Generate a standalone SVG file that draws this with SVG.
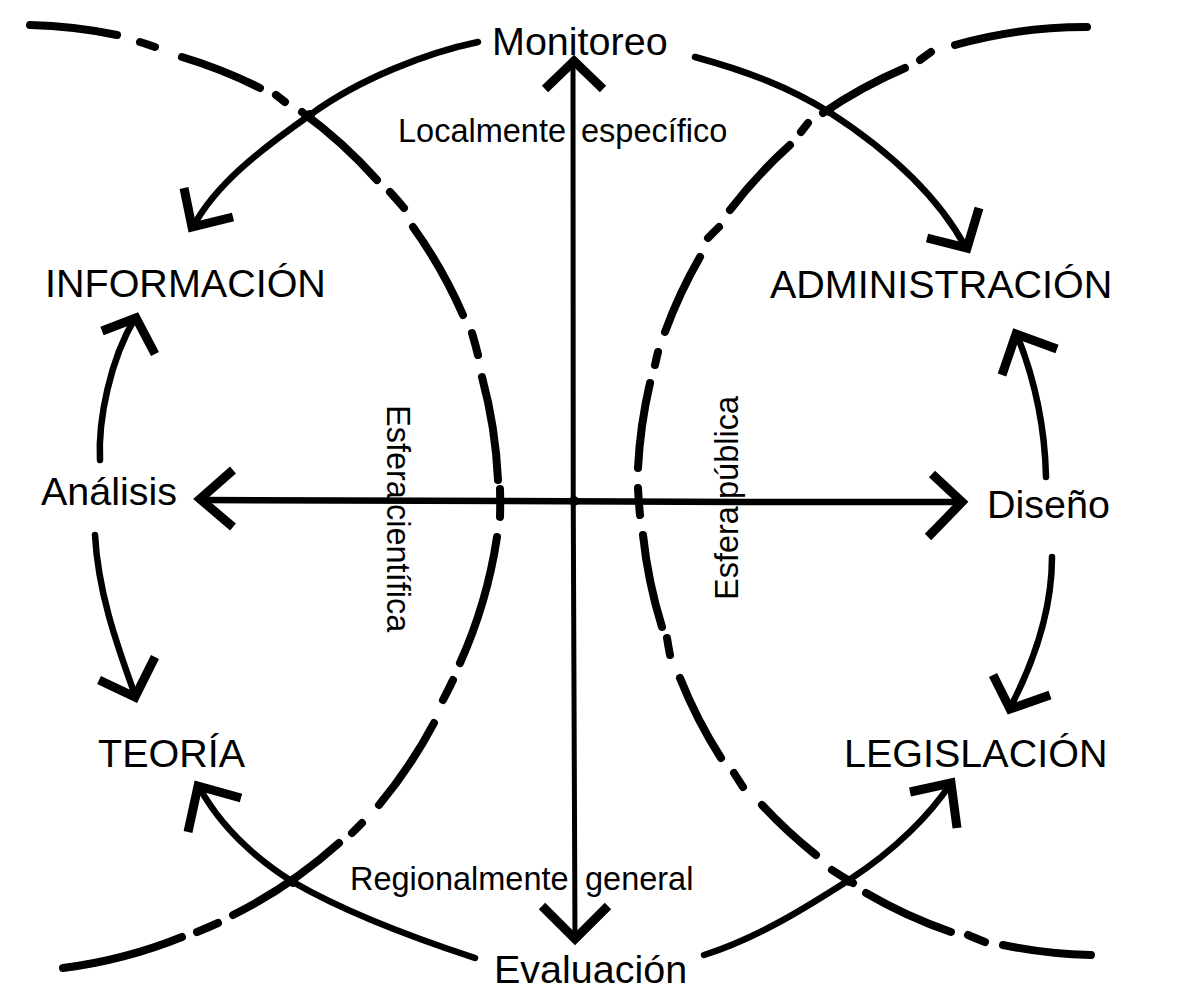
<svg xmlns="http://www.w3.org/2000/svg" width="1183" height="1001" viewBox="0 0 1183 1001">
<style>
.t{font-family:"Liberation Sans",Arial,Helvetica,sans-serif;fill:#000}
.big{font-size:39.5px}
.sm{font-size:32.5px}
.dash{fill:none;stroke:#000;stroke-width:8;stroke-linecap:round}
.arr{fill:none;stroke:#000;stroke-width:6.5;stroke-linecap:round}
.head{fill:none;stroke:#000;stroke-width:9;stroke-linecap:butt;stroke-linejoin:miter}
.ax{fill:none;stroke:#000;stroke-linecap:round}
</style>
<rect width="1183" height="1001" fill="#fff"/>

<g id="boundary-scientific">
<path class="dash" d="M30,25 A480,480 0 0 1 117,35 M140,42 A480,480 0 0 1 155,47 M182,57 A480,480 0 0 1 260,88 M276,95 A480,480 0 0 1 285,102 M302,112 A480,480 0 0 1 377,180 M390,192 A480,480 0 0 1 404,208 M413,227 A480,480 0 0 1 463,315 M472,333 A480,480 0 0 1 478,355 M482,377 A480,480 0 0 1 498,480 M500,489 A480,480 0 0 1 500,517 M497,537 A480,480 0 0 1 460,663 M453,680 A480,480 0 0 1 443,700 M434,723 A480,480 0 0 1 379,805 M362,823 A480,480 0 0 1 352,833 M339,843 A480,480 0 0 1 233,915 M218,923 A480,480 0 0 1 197,932 M182,937 A480,480 0 0 1 63,968"/>
</g>
<g id="boundary-public">
<path class="dash" d="M1087,27 A480,480 0 0 0 955,45 M931,52 A480,480 0 0 0 920,60 M905,68 A480,480 0 0 0 823,113 M808,123 A480,480 0 0 0 801,132 M790,145 A480,480 0 0 0 730,210 M719,227 A480,480 0 0 0 708,238 M700,257 A480,480 0 0 0 665,332 M658,352 A480,480 0 0 0 655,365 M650,383 A480,480 0 0 0 638,468 M638,488 A480,480 0 0 0 640,515 M643,535 A480,480 0 0 0 662,627 M667,638 A480,480 0 0 0 670,655 M680,678 A480,480 0 0 0 721,758 M734,773 A480,480 0 0 0 743,787 M762,805 A480,480 0 0 0 816,855 M832,870 A480,480 0 0 0 853,883 M866,893 A480,480 0 0 0 951,932 M968,935 A480,480 0 0 0 985,942 M1003,945 A480,480 0 0 0 1091,955"/>
</g>

<g id="connectors">
<path class="ax" stroke-width="5" d="M573,62 C574,300 572,700 575,940"/>
<polyline class="head" points="545,89 574,61 603,89"/>
<polyline class="head" points="542,906 575,939 608,906"/>
<path class="ax" stroke-width="6.5" d="M200,500 C400,499 700,503 962,502"/>
<polyline class="head" points="233,470 200,499 233,527"/>
<polyline class="head" points="932,474 962,502 928,537"/>
<circle cx="574" cy="501" r="5"/>

<path class="arr" d="M478,42 C430,52 360,78 310,115 C260,150 215,185 193,227"/>
<polyline class="head" points="184,188 192,227 233,217"/>
<path class="arr" d="M695,57 C750,72 790,88 829,112 C880,145 935,190 966,248"/>
<polyline class="head" points="979,208 967,248 927,238"/>
<path class="arr" d="M475,958 C420,940 350,915 293,882 C250,855 220,825 199,787"/>
<polyline class="head" points="188,832 198,786 241,798"/>
<path class="arr" d="M704,955 C760,937 810,905 849,880 C895,850 930,815 951,783"/>
<polyline class="head" points="957,828 951,783 910,792"/>
<path class="arr" d="M100,460 C98,420 110,360 135,318"/>
<polyline class="head" points="102,331 136,318 155,354"/>
<path class="arr" d="M95,535 C98,590 115,640 135,695"/>
<polyline class="head" points="99,680 135,697 155,657"/>
<path class="arr" d="M1046,477 C1045,430 1035,380 1017,335"/>
<polyline class="head" points="1002,375 1016,334 1057,349"/>
<path class="arr" d="M1052,557 C1052,610 1035,660 1010,708"/>
<polyline class="head" points="993,675 1010,709 1050,695"/>
<circle cx="310" cy="115" r="5"/>
<circle cx="829" cy="111" r="5"/>
<circle cx="293" cy="882" r="5"/>
<circle cx="849" cy="881" r="5"/>
</g>

<g id="node-monitoreo"><text class="t big" x="492" y="55">Monitoreo</text></g>
<g id="node-evaluacion"><text class="t big" x="494" y="983">Evaluación</text></g>
<g id="node-informacion"><text class="t big" x="45" y="297">INFORMACIÓN</text></g>
<g id="node-administracion"><text class="t big" x="770" y="298">ADMINISTRACIÓN</text></g>
<g id="node-analisis"><text class="t big" x="41" y="505">Análisis</text></g>
<g id="node-diseno"><text class="t big" x="987" y="518">Diseño</text></g>
<g id="node-teoria"><text class="t big" x="98" y="767">TEORÍA</text></g>
<g id="node-legislacion"><text class="t big" x="844" y="767">LEGISLACIÓN</text></g>

<g id="label-localmente"><text class="t sm" x="398" y="142">Localmente <tspan x="581">específico</tspan></text></g>
<g id="label-regionalmente"><text class="t sm" x="350" y="890">Regionalmente <tspan x="585">general</tspan></text></g>
<g id="label-esfera-cientifica"><text class="t sm" transform="translate(387,405) rotate(90)" x="0" y="0">Esfera <tspan x="99">científica</tspan></text></g>
<g id="label-esfera-publica"><text class="t sm" transform="translate(738,600) rotate(-90)" x="0" y="0">Esfera <tspan x="101">pública</tspan></text></g>
</svg>
